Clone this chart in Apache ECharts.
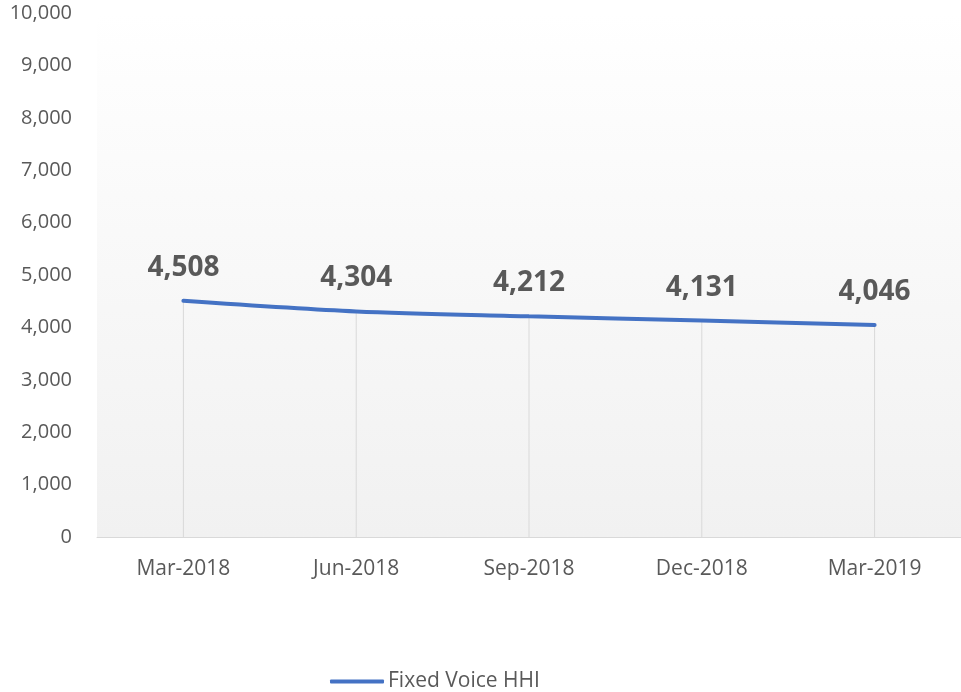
<!DOCTYPE html>
<html>
<head>
<meta charset="utf-8">
<script src="https://cdn.jsdelivr.net/npm/echarts@6/dist/echarts.min.js"></script>
<style>
html,body{margin:0;padding:0;background:#fff;}
#chart{width:961px;height:692px;}
</style>
</head>
<body>
<div id="chart"></div>
<script>
// Quarterly Fixed Voice HHI
const categories = ['Mar-2018', 'Jun-2018', 'Sep-2018', 'Dec-2018', 'Mar-2019'];
const hhiValues = [4508, 4304, 4212, 4131, 4046];
const seriesName = 'Fixed Voice HHI';

const textFont = '"Open Sans", Lato, sans-serif';
const chart = echarts.init(document.getElementById('chart'));
chart.setOption({
  animation: false,
  backgroundColor: '#ffffff',
  textStyle: { fontFamily: textFont },
  grid: {
    left: 97, right: 0, top: 13, bottom: 155,
    show: true,
    borderWidth: 0,
    backgroundColor: new echarts.graphic.LinearGradient(0, 0, 0, 1, [
      { offset: 0, color: '#ffffff' },
      { offset: 0.13, color: '#fdfdfd' },
      { offset: 1, color: '#f1f1f1' }
    ])
  },
  legend: {
    top: 671,
    left: 330,
    padding: 0,
    itemWidth: 54,
    itemHeight: 4,
    itemGap: 10,
    data: [{ name: seriesName, icon: 'roundRect' }],
    textStyle: { color: '#595959', fontSize: 21, fontFamily: textFont, padding: [0, 0, 0, -1] }
  },
  xAxis: {
    type: 'category',
    data: categories,
    boundaryGap: true,
    axisLine: { lineStyle: { color: '#d9d9d9', width: 1 } },
    axisTick: { show: false },
    axisLabel: { color: '#595959', fontSize: 21, margin: 22 }
  },
  yAxis: {
    type: 'value',
    min: 0, max: 10000, interval: 1000,
    axisLine: { show: false },
    axisTick: { show: false },
    splitLine: { show: false },
    axisLabel: {
      color: '#595959', fontSize: 20, margin: 25,
      formatter: v => v.toLocaleString('en-US')
    }
  },
  series: [
    {
      // vertical drop lines from each point to the axis
      name: 'drop',
      type: 'bar',
      data: hhiValues,
      barWidth: 1,
      silent: true,
      itemStyle: { color: '#d9d9d9' },
      z: 1
    },
    {
      name: seriesName,
      type: 'line',
      data: hhiValues,
      smooth: 0.3,
      symbol: 'circle',
      symbolSize: 0,
      showSymbol: true,
      lineStyle: { color: '#4472c4', width: 4, cap: 'round' },
      itemStyle: { color: '#4472c4' },
      label: {
        show: true,
        position: 'top',
        distance: 19,
        color: '#595959',
        fontSize: 28,
        fontWeight: 'bold',
        fontFamily: textFont,
        formatter: p => p.value.toLocaleString('en-US')
      },
      z: 3
    }
  ]
});
</script>
</body>
</html>
